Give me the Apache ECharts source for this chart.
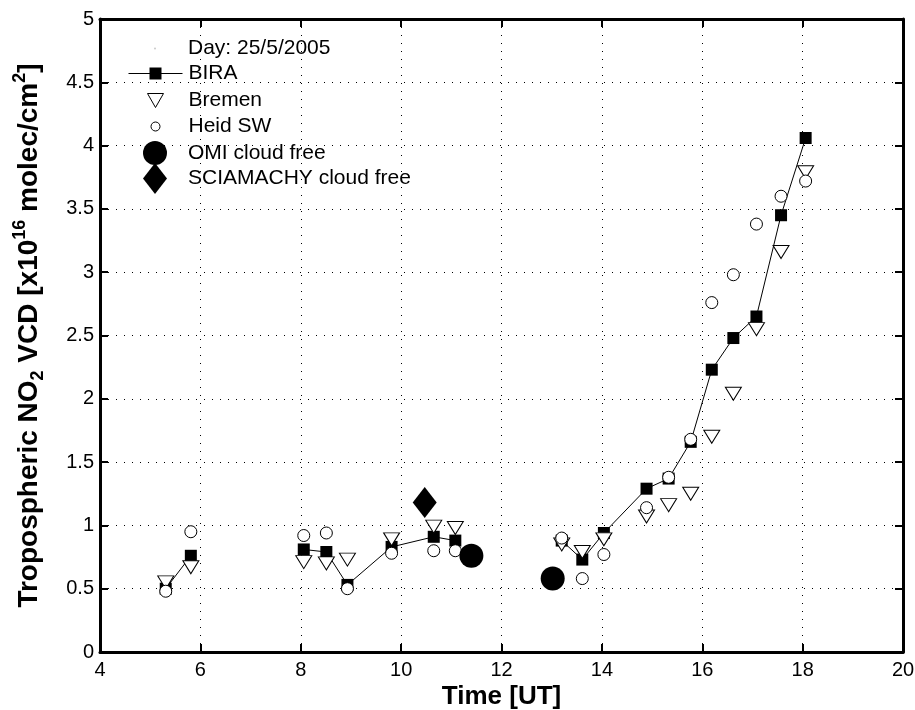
<!DOCTYPE html>
<html>
<head>
<meta charset="utf-8">
<script src="https://cdn.jsdelivr.net/npm/echarts@6.0.0/dist/echarts.min.js"></script>
<style>
	html,body{margin:0;padding:0;background:#fff;}
	#no2_chart{width:915px;height:710px;}
</style>
</head>
<body>
<div id="no2_chart"></div>
<script>
	// measurement times [UT], shared by the three MAX-DOAS groups
	var times = [5.31, 5.81, 8.06, 8.51, 8.93, 9.81, 10.65, 11.08, 13.2, 13.61, 14.04, 14.89, 15.33, 15.77, 16.19, 16.62, 17.08, 17.57, 18.06];
	var biraValues = [0.50, 0.76, 0.81, 0.79, 0.53, 0.83, 0.91, 0.88, 0.88, 0.73, 0.94, 1.29, 1.37, 1.66, 2.23, 2.48, 2.65, 3.45, 4.06];
	var bremenValues = [0.55, 0.67, 0.71, 0.70, 0.73, 0.89, 0.99, 0.98, 0.85, 0.79, 0.89, 1.07, 1.16, 1.25, 1.70, 2.04, 2.55, 3.16, 3.79];
	var heidValues = [0.48, 0.95, 0.92, 0.94, 0.50, 0.78, 0.80, 0.80, 0.90, 0.58, 0.77, 1.14, 1.38, 1.68, 2.76, 2.98, 3.38, 3.60, 3.72];
	// BIRA line is broken before these indices
	var biraGaps = [2, 8];

	var omiTimes = [11.40, 13.02];
	var omiValues = [0.76, 0.58];
	var sciaTimes = [10.47];
	var sciaValues = [1.18];

	var xTicks = {min: 4, max: 20, interval: 2};
	var yTicks = {min: 0, max: 5, interval: 0.5};

	var dayLabel = 'Day: 25/5/2005';

	var font = 'Liberation Sans, Arial, Helvetica, sans-serif';

	function pairs(xs, ys){
		var out = [];
		for(var i=0;i<xs.length;i++){
			out.push([xs[i], ys[i]]);
		}
		return out;
	}

	var biraData = [];
	for(var i=0;i<times.length;i++){
		if(biraGaps.indexOf(i)>=0){
			biraData.push(['-', '-']);
		}
		biraData.push([times[i], biraValues[i]]);
	}

	// one legend per row so every icon keeps its own size
	function legendRow(name, top, w, h, extra){
		var lg = {
			show: true,
			orient: 'vertical',
			data: [name],
			left: 155 - w/2,
			top: top,
			padding: 0,
			itemWidth: w,
			itemHeight: h,
			selectedMode: false,
			textStyle: {
				color: '#000',
				fontSize: 21,
				fontFamily: font,
				padding: [0, 0, 0, Math.max(0, 28 - w/2)]
			}
		};
		for(var k in extra){ lg[k] = extra[k]; }
		return lg;
	}

	var hollow = {color: '#fff', borderColor: '#000', borderWidth: 1, opacity: 1};
	var solid = {color: '#000', borderWidth: 0, opacity: 1};

	function axisBase(ticks, pos, main){
		return {
			type: 'value',
			position: pos,
			min: ticks.min,
			max: ticks.max,
			interval: ticks.interval,
			axisLine: {show: true, onZero: false, lineStyle: {color: '#000', width: 3}},
			axisTick: {show: true, inside: true, length: 8, lineStyle: {color: '#000', width: 2}},
			axisLabel: {show: main, color: '#000', fontSize: 20, fontFamily: font, margin: 6},
			splitLine: {show: main, lineStyle: {color: '#000', width: 1, type: [1, 7]}},
			nameMoveOverlap: false
		};
	}

	var xMain = axisBase(xTicks, 'bottom', true);
	xMain.axisLabel.margin = 8;
	xMain.name = 'Time [UT]';
	xMain.nameLocation = 'middle';
	xMain.nameGap = 32;
	xMain.nameTextStyle = {color: '#000', fontSize: 26, fontWeight: 'bold', fontFamily: font};

	var yMain = axisBase(yTicks, 'left', true);
	yMain.name = 'Tropospheric NO{sub|2} VCD [x10{sup|16} molec/cm{sup|2}]';
	yMain.nameLocation = 'middle';
	yMain.nameGap = 53;
	yMain.nameTextStyle = {
		color: '#000', fontSize: 28, fontWeight: 'bold', fontFamily: font, lineHeight: 36,
		rich: {
			sub: {color: '#000', fontSize: 18, fontWeight: 'bold', fontFamily: font, verticalAlign: 'bottom', lineHeight: 6},
			sup: {color: '#000', fontSize: 18, fontWeight: 'bold', fontFamily: font, verticalAlign: 'top', lineHeight: 12}
		}
	};

	var myChart = echarts.init(document.getElementById('no2_chart'), null, {renderer: 'canvas'});
	var option = {
		animation: false,
		backgroundColor: '#fff',
		grid: {left: 100, right: 12, top: 19, bottom: 58, outerBoundsMode: 'none', containLabel: false},
		xAxis: [xMain, axisBase(xTicks, 'top', false)],
		yAxis: [yMain, axisBase(yTicks, 'right', false)],
		legend: [
			legendRow(dayLabel, 38, 2, 2, {icon: 'circle', itemStyle: {color: '#bbb', borderWidth: 0}}),
			legendRow('BIRA', 63, 54, 15, {itemStyle: solid, lineStyle: {color: '#000', width: 1}}),
			legendRow('Bremen', 90, 16, 14, {icon: 'path://M0,0L16,0L8,14Z', symbolKeepAspect: false, itemStyle: hollow}),
			legendRow('Heid SW', 116, 9, 9, {itemStyle: hollow}),
			legendRow('OMI cloud free', 141, 24, 24, {itemStyle: solid}),
			legendRow('SCIAMACHY cloud free', 163, 24, 31, {itemStyle: solid})
		],
		series: [
			{
				name: dayLabel,
				type: 'scatter',
				data: [],
				itemStyle: {color: '#bbb'}
			},
			{
				name: 'BIRA',
				type: 'line',
				data: biraData,
				connectNulls: false,
				symbol: 'rect',
				symbolSize: 12,
				showSymbol: true,
				itemStyle: solid,
				lineStyle: {color: '#000', width: 1},
				z: 2
			},
			{
				name: 'Bremen',
				type: 'scatter',
				data: pairs(times, bremenValues),
				symbol: 'triangle',
				symbolRotate: 180,
				symbolSize: [16, 13],
				itemStyle: hollow,
				z: 3
			},
			{
				name: 'Heid SW',
				type: 'scatter',
				data: pairs(times, heidValues),
				symbol: 'circle',
				symbolSize: 12,
				itemStyle: hollow,
				z: 4
			},
			{
				name: 'OMI cloud free',
				type: 'scatter',
				data: pairs(omiTimes, omiValues),
				symbol: 'circle',
				symbolSize: 24,
				itemStyle: solid,
				z: 5
			},
			{
				name: 'SCIAMACHY cloud free',
				type: 'scatter',
				data: pairs(sciaTimes, sciaValues),
				symbol: 'diamond',
				symbolSize: [24, 31],
				itemStyle: solid,
				z: 5
			}
		]
	};
	myChart.setOption(option);
</script>
</body>
</html>
